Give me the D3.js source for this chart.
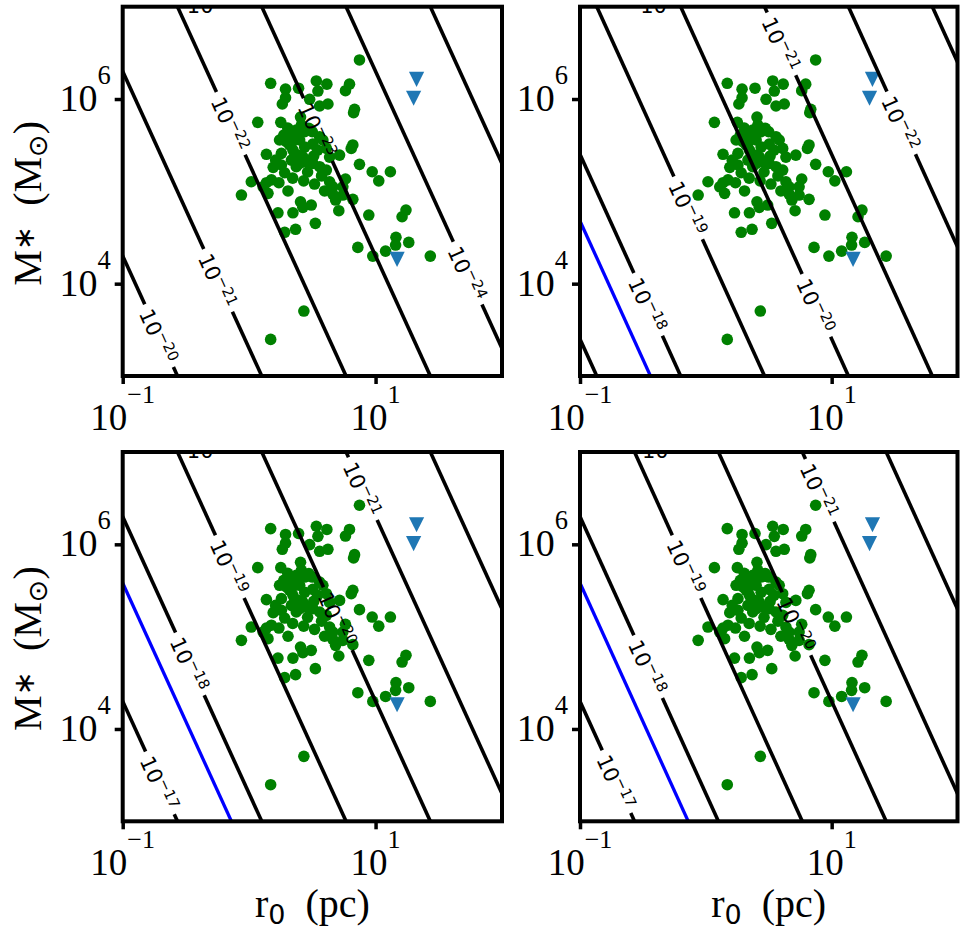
<!DOCTYPE html>
<html><head><meta charset="utf-8">
<script src="https://cdn.jsdelivr.net/npm/d3@7"></script>
<style>body{margin:0;background:#fff}svg{display:block}</style>
</head><body>
<svg id="chart" width="966" height="936"></svg>
<script>
// ---------------- data ----------------
const clusterR = [7.46,1.48,1.94,2.46,3.40,4.12,3.50,6.22,5.78,1.94,1.83,3.01,3.61,4.20,6.82,6.70,1.17,1.78,2.59,2.36,2.75,2.22,2.97,3.16,3.61,1.74,1.97,2.16,2.51,3.19,3.83,4.08,6.61,6.42,1.37,1.80,2.22,2.43,2.66,5.19,2.16,2.51,2.83,3.19,1.55,1.80,1.91,2.36,3.61,4.08,7.46,9.40,13.1,10.6,1.04,1.37,1.50,1.72,2.70,3.29,4.33,4.59,5.78,5.51,1.29,0.869,1.41,2.03,4.59,5.51,6.61,2.55,2.66,3.10,1.69,2.22,5.12,8.84,17.4,16.2,3.34,1.91,2.33,14.5,14.4,18.3,7.24,9.51,12.0,27.1,2.71,1.48,2.09,2.75,3.48,2.38,2.02,2.90,3.74,2.21,3.24,1.88,2.55,4.33,1.62,4.83,3.95];
const clusterM = [2.65e6,1.48e6,1.28e6,1.31e6,1.57e6,1.45e6,1.22e6,1.45e6,1.23e6,1.03e6,8.83e5,9.93e5,8.40e5,8.83e5,7.73e5,7.11e5,5.59e5,5.59e5,5.23e5,4.62e5,4.42e5,4.07e5,4.82e5,4.42e5,3.91e5,3.60e5,3.45e5,3.31e5,3.60e5,3.25e5,3.60e5,2.92e5,3.18e5,2.92e5,2.52e5,2.58e5,2.80e5,2.47e5,2.37e5,2.47e5,2.18e5,2.01e5,2.09e5,2.01e5,1.82e5,1.93e5,1.59e5,1.85e5,1.85e5,1.70e5,1.96e5,1.63e5,1.63e5,1.30e5,1.27e5,1.24e5,1.33e5,1.24e5,1.30e5,1.20e5,1.27e5,1.12e5,1.36e5,1.12e5,1.12e5,9.12e4,9.51e4,1.01e5,9.35e4,9.12e4,8.19e4,7.71e4,6.71e4,7.11e4,5.86e4,5.86e4,6.17e4,5.54e4,6.27e4,5.31e4,4.50e4,3.60e4,3.88e4,3.18e4,2.62e4,2.80e4,2.47e4,1.99e4,2.25e4,1.99e4,5.05e3,2.49e3,3.18e5,3.02e5,2.80e5,3.78e5,4.85e5,1.62e5,1.47e5,1.39e5,2.41e5,4.07e5,6.38e5,2.35e5,2.18e5,8.05e4,1.01e5];
const upperR = [21.1, 20.0, 14.8];
const upperM = [1.63e6, 1.02e6, 1.83e4];

const xDomain = [0.1, 100];
const yDomain = [1e3, 1e7];
const xTicks = [0.1, 10];
const yTicks = [1e4, 1e6];

// contour family: log10(M) + 3 log10(r) = panelNorm - 2*exponent
const panelNorm = [-38.7, -33.6, -32.7, -32.7];
const contourExps = [-16, -17, -18, -19, -20, -21, -22, -23, -24, -25, -26];
const thresholdExp = -17.64;
const showThreshold = [false, true, true, true];
const labelExps = [[-20, -21, -22, -23, -24], [-18, -19, -20, -21, -22], [-17, -18, -19, -20, -21], [-17, -18, -19, -20, -21]];
const labelR = [[0.194, 0.568, 0.716, 3.50, 53.5], [0.348, 0.724, 7.56, 3.99, 35.7], [0.197, 0.340, 0.703, 5.03, 7.93], [0.195, 0.348, 0.703, 5.25, 8.04]];
const edgeLabelR = [0.407, 0.382, 0.407, 0.394];
const edgeLabelExp = [-19, -16, -16, -16];

const xLabelParts = ["r", "0", "\u00a0\u00a0(pc)"];
const yLabelParts = ["M", "\u2217", "\u00a0\u00a0(M", "\u2299", ")"];

// ---------------- layout ----------------
const panels = [
  {x0: 122.7, x1: 502, y0: 6.7, y1: 376, xl: false, yl: true},
  {x0: 580, x1: 957.5, y0: 6.7, y1: 376, xl: false, yl: false},
  {x0: 122.7, x1: 502, y0: 452, y1: 821.3, xl: true, yl: true},
  {x0: 580, x1: 957.5, y0: 452, y1: 821.3, xl: true, yl: false}
];
const SERIF = "'Liberation Serif','Times New Roman',serif";
const SANS = "'DejaVu Sans',sans-serif";
const minus = s => String(s).replace('-', '\u2212');

const svg = d3.select('#chart');
const defs = svg.append('defs');

panels.forEach((p, i) => {
  const x = d3.scaleLog().domain(xDomain).range([p.x0, p.x1]);
  const y = d3.scaleLog().domain(yDomain).range([p.y1, p.y0]);
  const clipId = 'clip' + i;
  defs.append('clipPath').attr('id', clipId).append('rect')
    .attr('x', p.x0).attr('y', p.y0).attr('width', p.x1 - p.x0).attr('height', p.y1 - p.y0);
  const g = svg.append('g');
  const plot = g.append('g').attr('clip-path', `url(#${clipId})`);

  // scatter
  plot.append('g').selectAll('circle').data(d3.range(clusterR.length)).join('circle')
    .attr('cx', j => x(clusterR[j])).attr('cy', j => y(clusterM[j]))
    .attr('r', 5.8).attr('fill', '#008000');
  plot.append('g').selectAll('path').data(d3.range(upperR.length)).join('path')
    .attr('d', j => { const cx = x(upperR[j]), cy = y(upperM[j]), s = 7.6;
      return `M${cx - s},${cy - s}L${cx + s},${cy - s}L${cx},${cy + s}Z`; })
    .attr('fill', '#1f77b4');

  // contour lines
  const c = panelNorm[i];
  const massAt = (k, r) => Math.pow(10, k - 3 * Math.log10(r));
  const rLo = Math.pow(10, -1.6), rHi = Math.pow(10, 2.6);
  const lineGen = d3.line().x(d => x(d[0])).y(d => y(d[1]));
  const lineG = plot.append('g');
  const labG = plot.append('g');

  if (showThreshold[i]) {
    const k = c - 2 * thresholdExp;
    lineG.append('path').attr('d', lineGen([[rLo, massAt(k, rLo)], [rHi, massAt(k, rHi)]]))
      .attr('stroke', '#0000ff').attr('stroke-width', 3.3).attr('fill', 'none');
  }

  contourExps.forEach(e => {
    const k = c - 2 * e;
    const li = labelExps[i].indexOf(e);
    let segs = [[rLo, rHi]];
    if (li >= 0) {
      const r0 = labelR[i][li];
      const xa = x(rLo), ya = y(massAt(k, rLo)), xb = x(rHi), yb = y(massAt(k, rHi));
      const len = Math.hypot(xb - xa, yb - ya);
      const ux = (xb - xa) / len, uy = (yb - ya) / len;
      const xc = x(r0), yc = y(massAt(k, r0));
      const half = 34.5;
      segs = [[rLo, x.invert(xc - half * ux)], [x.invert(xc + half * ux), rHi]];
      const ang = Math.atan2(uy, ux) * 180 / Math.PI;
      const t = labG.append('text')
        .attr('transform', `translate(${xc},${yc}) rotate(${ang})`)
        .attr('text-anchor', 'middle').attr('dy', '0.45em')
        .attr('font-family', SANS).attr('font-size', 21).attr('fill', '#000');
      t.append('tspan').text('10');
      t.append('tspan').attr('font-size', 14.7).attr('dy', -8.5).text(minus(e));
    }
    segs.forEach(([ra, rb]) => {
      lineG.append('path').attr('d', lineGen([[ra, massAt(k, ra)], [rb, massAt(k, rb)]]))
        .attr('stroke', '#000').attr('stroke-width', 3.6).attr('fill', 'none');
    });
  });

  // clipped label fragment at the top edge (cut by the frame, as in the original)
  const et = labG.append('text').attr('x', x(edgeLabelR[i]) - 13).attr('y', p.y0 + 5.8)
    .attr('font-family', SANS).attr('font-size', 21).attr('fill', '#000');
  et.append('tspan').text('10');
  et.append('tspan').attr('font-size', 14.7).attr('dy', -8.5).text(minus(edgeLabelExp[i]));

  // ticks
  const xAxis = d3.axisBottom(x).tickValues(xTicks).tickSize(8).tickSizeOuter(0).tickFormat('');
  const ax = g.append('g').attr('transform', `translate(0,${p.y1})`).call(xAxis);
  const yAxis = d3.axisLeft(y).tickValues(yTicks).tickSize(8).tickSizeOuter(0).tickFormat('');
  const ay = g.append('g').attr('transform', `translate(${p.x0},0)`).call(yAxis);
  [ax, ay].forEach(a => { a.select('.domain').remove(); a.selectAll('line').attr('stroke', '#000').attr('stroke-width', 3.5); });

  xTicks.forEach(tv => {
    const t = g.append('text').attr('x', x(tv)).attr('y', p.y1 + 54).attr('text-anchor', 'middle')
      .attr('font-family', SERIF).attr('font-size', 37).attr('fill', '#000');
    t.append('tspan').text('10');
    t.append('tspan').attr('font-size', 26).attr('dy', -27).text(minus(Math.round(Math.log10(tv))));
  });
  yTicks.forEach(tv => {
    const t = g.append('text').attr('x', p.x0 - 12).attr('y', y(tv) + 12).attr('text-anchor', 'end')
      .attr('font-family', SERIF).attr('font-size', 38).attr('fill', '#000');
    t.append('tspan').text('10');
    t.append('tspan').attr('font-size', 26.5).attr('dy', -27).text(minus(Math.round(Math.log10(tv))));
  });

  // frame
  g.append('rect').attr('x', p.x0).attr('y', p.y0).attr('width', p.x1 - p.x0).attr('height', p.y1 - p.y0)
    .attr('fill', 'none').attr('stroke', '#000').attr('stroke-width', 4);

  // axis labels
  if (p.xl) {
    const t = g.append('text').attr('x', (p.x0 + p.x1) / 2).attr('y', p.y1 + 96).attr('text-anchor', 'middle')
      .attr('font-family', SERIF).attr('font-size', 40).attr('fill', '#000');
    t.append('tspan').text(xLabelParts[0]);
    t.append('tspan').attr('font-family', SANS).attr('font-size', 27).attr('dy', 7).text(xLabelParts[1]);
    t.append('tspan').attr('dy', -7).text(xLabelParts[2]);
  }
  if (p.yl) {
    const t = g.append('text')
      .attr('transform', `translate(41,${(p.y0 + p.y1) / 2 + 12}) rotate(-90)`)
      .attr('text-anchor', 'middle').attr('font-family', SERIF).attr('font-size', 40).attr('fill', '#000');
    t.append('tspan').text(yLabelParts[0]);
    t.append('tspan').attr('font-family', SANS).attr('font-size', 29).attr('dy', -7).text(yLabelParts[1]);
    t.append('tspan').attr('dy', 7).text(yLabelParts[2]);
    t.append('tspan').attr('font-family', SANS).attr('font-size', 27).attr('dy', 6).text(yLabelParts[3]);
    t.append('tspan').attr('dy', -6).text(yLabelParts[4]);
  }
});
</script>
</body></html>
